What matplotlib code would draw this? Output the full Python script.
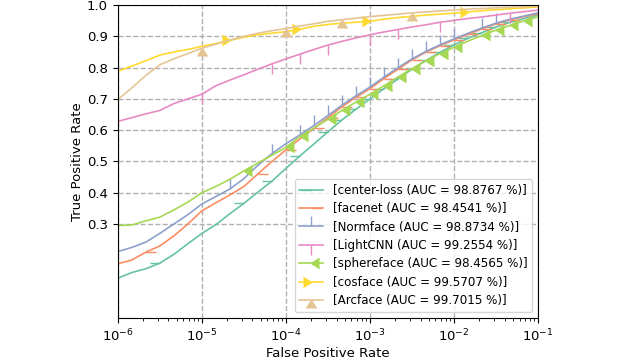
import numpy as np
import matplotlib
matplotlib.use('Agg')
import matplotlib.pyplot as plt

# false positive rate grid (1/6 decade steps from 1e-6 to 1e-1)
fpr = np.logspace(-6, -1, 31)

names = ['center-loss', 'facenet', 'Normface', 'LightCNN', 'sphereface', 'cosface', 'Arcface']
aucs = ['98.8767', '98.4541', '98.8734', '99.2554', '98.4565', '99.5707', '99.7015']

# true positive rates
tpr_center = [0.127, 0.145, 0.157, 0.175, 0.203, 0.237, 0.270, 0.298, 0.333, 0.366, 0.402,
              0.437, 0.478, 0.518, 0.556, 0.595, 0.633, 0.667, 0.700, 0.733, 0.764,
              0.795, 0.823, 0.849, 0.873, 0.894, 0.912, 0.930, 0.945, 0.957, 0.968]
tpr_facenet = [0.173, 0.185, 0.210, 0.230, 0.262, 0.300, 0.342, 0.368, 0.393, 0.420, 0.460,
               0.500, 0.537, 0.572, 0.606, 0.640, 0.675, 0.705, 0.733, 0.765, 0.795,
               0.825, 0.850, 0.870, 0.889, 0.907, 0.924, 0.940, 0.953, 0.963, 0.972]
tpr_normface = [0.212, 0.225, 0.242, 0.270, 0.300, 0.330, 0.364, 0.388, 0.412, 0.445, 0.488,
                0.525, 0.557, 0.585, 0.615, 0.647, 0.680, 0.710, 0.738, 0.770, 0.800,
                0.828, 0.852, 0.873, 0.892, 0.910, 0.927, 0.942, 0.955, 0.965, 0.975]
tpr_lightcnn = [0.628, 0.640, 0.652, 0.663, 0.685, 0.700, 0.715, 0.742, 0.760, 0.777, 0.795,
                0.812, 0.828, 0.843, 0.858, 0.872, 0.884, 0.895, 0.905, 0.914, 0.922,
                0.930, 0.937, 0.945, 0.951, 0.957, 0.962, 0.968, 0.974, 0.979, 0.984]
tpr_sphere = [0.295, 0.297, 0.310, 0.322, 0.345, 0.370, 0.400, 0.420, 0.443, 0.470, 0.495,
              0.520, 0.545, 0.580, 0.607, 0.635, 0.663, 0.690, 0.715, 0.742, 0.770,
              0.797, 0.822, 0.845, 0.865, 0.885, 0.903, 0.920, 0.935, 0.950, 0.962]
tpr_cosface = [0.788, 0.805, 0.822, 0.840, 0.850, 0.858, 0.868, 0.877, 0.887, 0.897, 0.905,
               0.910, 0.915, 0.923, 0.932, 0.938, 0.942, 0.945, 0.948, 0.955, 0.960,
               0.964, 0.968, 0.971, 0.974, 0.978, 0.982, 0.985, 0.988, 0.991, 0.994]
tpr_arcface = [0.698, 0.735, 0.775, 0.809, 0.828, 0.845, 0.862, 0.875, 0.888, 0.900, 0.910,
               0.918, 0.925, 0.933, 0.940, 0.948, 0.953, 0.958, 0.963, 0.967, 0.971,
               0.975, 0.978, 0.981, 0.984, 0.987, 0.989, 0.991, 0.993, 0.995, 0.996]

tprs = [tpr_center, tpr_facenet, tpr_normface, tpr_lightcnn, tpr_sphere, tpr_cosface, tpr_arcface]

# which points carry a marker
marks = [[3, 9, 11, 13, 15, 16, 17, 18, 19, 20, 21, 22, 23, 24, 25, 26, 27, 28],
         [2, 10, 12, 14, 15, 16, 17, 18, 19, 20, 21, 22, 23, 24, 25, 26, 27, 28],
         [8, 11, 13, 14, 15, 16, 17, 18, 19, 20, 21, 22, 23, 24, 26, 27],
         [6, 11, 13, 15, 18, 20, 23, 28],
         [9, 12, 13, 15, 16, 17, 18, 19, 20, 21, 22, 23, 24, 26, 27, 28, 29],
         [8, 13, 18, 25],
         [6, 12, 16, 21]]

colors = plt.cm.Set2.colors
plt.rcParams['font.size'] = 9.5

fig = plt.figure(figsize=(6.4, 3.6), dpi=100)
ax = fig.add_axes([0.184, 0.117, 0.657, 0.869])
for i in range(len(names)):
    ax.plot(fpr, tprs[i], color=colors[i], marker=i, markevery=marks[i],
            markersize=7.5, lw=1.2,
            label='[%s (AUC = %s %%)]' % (names[i], aucs[i]))
ax.set_xscale('log')
ax.set_xlim(1e-6, 1e-1)
ax.set_ylim(0, 1)
ax.set_yticks(np.arange(0.3, 1.01, 0.1))
ax.grid(linestyle='--', lw=1)
ax.set_xlabel('False Positive Rate', labelpad=2)
ax.set_ylabel('True Positive Rate', labelpad=2)
ax.legend(loc='lower right', fontsize=8.6, labelspacing=0.45)
plt.savefig('out.png')
